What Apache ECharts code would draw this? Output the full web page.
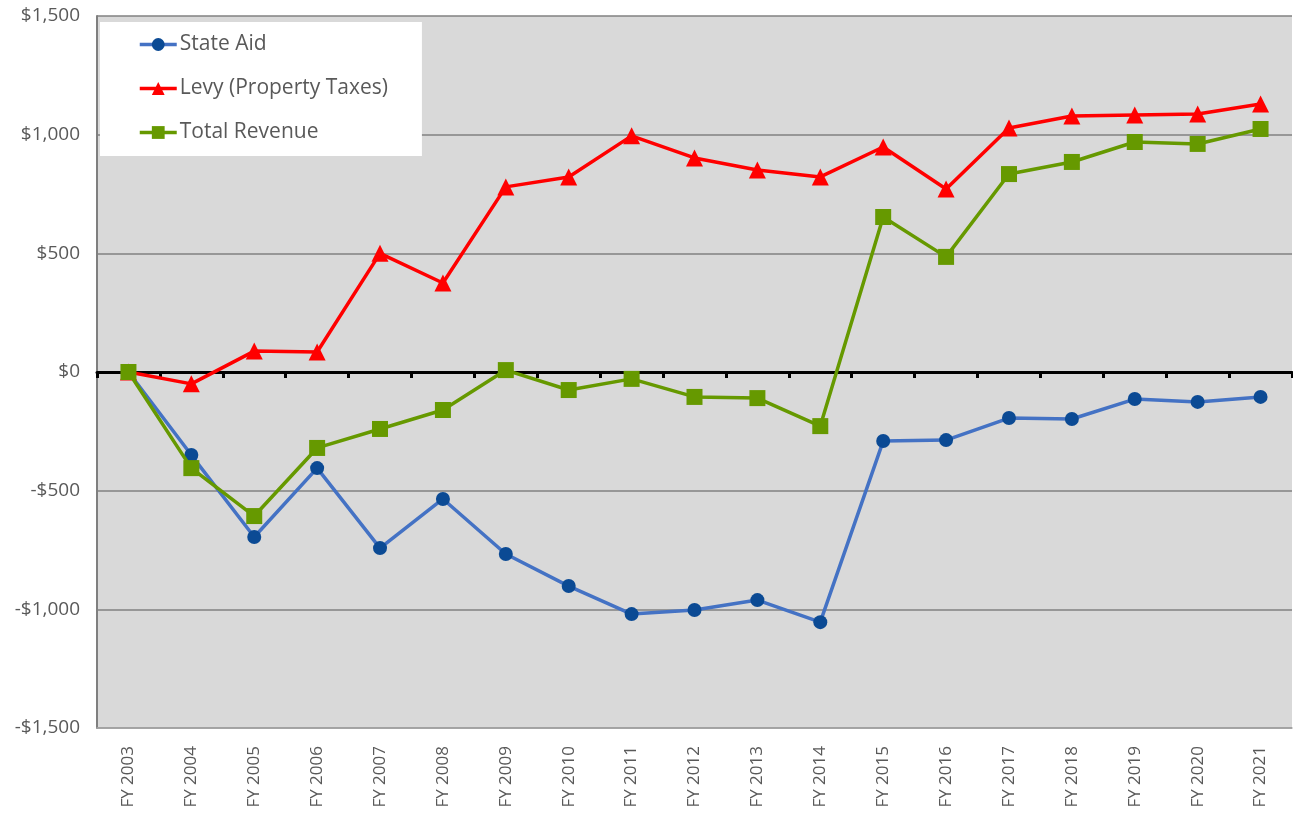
<!DOCTYPE html>
<html>
<head>
<meta charset="utf-8">
<script src="https://cdn.jsdelivr.net/npm/echarts@6/dist/echarts.min.js"></script>
<style>
  html, body { margin: 0; padding: 0; background: #fff; }
  #chart { width: 1293px; height: 817px; }
</style>
</head>
<body>
<div id="chart"></div>
<script>
const years = ['FY 2003', 'FY 2004', 'FY 2005', 'FY 2006', 'FY 2007', 'FY 2008', 'FY 2009',
  'FY 2010', 'FY 2011', 'FY 2012', 'FY 2013', 'FY 2014', 'FY 2015', 'FY 2016', 'FY 2017',
  'FY 2018', 'FY 2019', 'FY 2020', 'FY 2021']

const stateAid = [0, -350, -695, -405, -742, -535, -767, -902, -1020, -1003, -961, -1054,
  -291, -287, -194, -198, -114, -126, -105]
const levy = [0, -50, 88, 84, 500, 375, 780, 822, 995, 902, 851, 822, 948, 771, 1028,
  1079, 1083, 1087, 1129]
const totalRevenue = [0, -405, -607, -320, -240, -160, 8, -76, -29, -105, -110, -228,
  653, 485, 834, 885, 969, 961, 1024]

const font = '"Open Sans", "Liberation Sans", sans-serif'
const textGrey = '#595959'

const fmtMoney = (v) => {
  const s = '$' + Math.abs(v).toLocaleString('en-US')
  return v < 0 ? '-' + s : s
}

const chart = echarts.init(document.getElementById('chart'))

chart.setOption({
  animation: false,
  grid: {
    left: 97,
    right: 1,
    top: 16,
    bottom: 89,
    show: true,
    backgroundColor: '#d9d9d9',
    borderWidth: 0
  },
  legend: {
    orient: 'vertical',
    left: 100,
    top: 22,
    backgroundColor: '#ffffff',
    padding: [12, 34, 13, 38],
    itemGap: 23,
    itemWidth: 37,
    itemHeight: 16,
    lineStyle: { width: 3.5 },
    textStyle: { fontFamily: font, fontSize: 21, color: textGrey, lineHeight: 21, padding: [0, 0, 0, -2] },
    data: ['State Aid', 'Levy (Property Taxes)', 'Total Revenue']
  },
  xAxis: [
    {
      type: 'category',
      data: years,
      boundaryGap: true,
      axisLine: { onZero: false, lineStyle: { color: '#a6a6a6', width: 1.5 } },
      axisTick: { show: false },
      axisLabel: {
        rotate: 90,
        margin: 18,
        fontFamily: font,
        fontSize: 17,
        color: textGrey
      }
    },
    {
      type: 'category',
      data: years,
      position: 'bottom',
      boundaryGap: true,
      axisLine: { onZero: true, lineStyle: { color: '#000000', width: 3 } },
      axisTick: { show: true, length: 6, lineStyle: { color: '#000000', width: 3 } },
      axisLabel: { show: false }
    }
  ],
  yAxis: {
    type: 'value',
    min: -1500,
    max: 1500,
    interval: 500,
    axisLine: { show: true, lineStyle: { color: '#7f7f7f', width: 2 } },
    axisTick: { show: false },
    splitLine: { lineStyle: { color: '#808080', width: 1.5 } },
    axisLabel: {
      margin: 17,
      fontFamily: font,
      fontSize: 19,
      color: textGrey,
      formatter: fmtMoney
    }
  },
  series: [
    {
      name: 'State Aid',
      type: 'line',
      data: stateAid,
      symbol: 'circle',
      symbolSize: 14,
      lineStyle: { color: '#4472c4', width: 3.5 },
      itemStyle: { color: '#0b4a94' },
      z: 3
    },
    {
      name: 'Levy (Property Taxes)',
      type: 'line',
      data: levy,
      symbol: 'triangle',
      symbolSize: 17,
      lineStyle: { color: '#ff0000', width: 3.5 },
      itemStyle: { color: '#ff0000' },
      z: 4
    },
    {
      name: 'Total Revenue',
      type: 'line',
      data: totalRevenue,
      symbol: 'rect',
      symbolSize: 16,
      lineStyle: { color: '#669900', width: 3.5 },
      itemStyle: { color: '#669900' },
      z: 5
    }
  ]
})
</script>
</body>
</html>
